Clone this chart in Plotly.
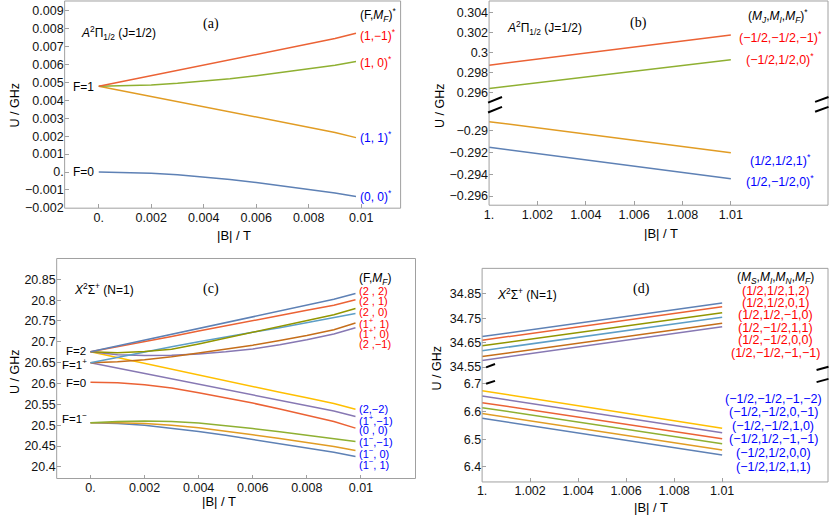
import plotly.graph_objects as go

W, H = 830, 523

# ---------------- data ----------------
# Panel (a): A2Pi1/2 (J=1/2), low field
B_a = [0, 0.001, 0.002, 0.003, 0.004, 0.005, 0.006, 0.007, 0.008, 0.009, 0.0098]
a_red = [0.00479, 0.00509, 0.00538, 0.00568, 0.00597, 0.00627, 0.00657, 0.00686, 0.00716, 0.00745, 0.00775]
a_green = [0.00479, 0.00481, 0.00486, 0.00495, 0.00507, 0.00521, 0.00538, 0.00556, 0.00576, 0.00596, 0.00617]
a_orange = [0.00479, 0.00450, 0.00422, 0.00393, 0.00364, 0.00336, 0.00307, 0.00278, 0.00249, 0.00221, 0.00192]
a_blue = [0, -0.00002, -0.00007, -0.00016, -0.00028, -0.00042, -0.00059, -0.00077, -0.00097, -0.00117, -0.00137]

# Panel (b): A2Pi1/2 (J=1/2), high field
B_b = [1.0, 1.01]
b_red = [0.29873, 0.30173]
b_green = [0.29641, 0.29928]
b_orange = [-0.28915, -0.29202]
b_blue = [-0.29150, -0.29440]

# Panel (c): X2Sigma+ (N=1), low field
B_c = [0, 0.001, 0.002, 0.003, 0.004, 0.005, 0.006, 0.007, 0.008, 0.009, 0.0098]
c_2_2 = [20.676, 20.690, 20.704, 20.718, 20.732, 20.746, 20.760, 20.774, 20.788, 20.802, 20.816]
c_2_1 = [20.676, 20.688, 20.701, 20.713, 20.726, 20.738, 20.751, 20.763, 20.776, 20.788, 20.801]
c_2_0 = [20.676, 20.674, 20.677, 20.682, 20.695, 20.709, 20.723, 20.737, 20.751, 20.765, 20.780]
c_1p_1 = [20.650, 20.663, 20.676, 20.688, 20.700, 20.712, 20.723, 20.734, 20.746, 20.757, 20.768]
c_1p_0 = [20.650, 20.652, 20.657, 20.664, 20.673, 20.682, 20.692, 20.703, 20.715, 20.729, 20.745]
c_2_m1 = [20.676, 20.669, 20.667, 20.668, 20.671, 20.676, 20.683, 20.693, 20.705, 20.719, 20.734]
c_2_m2 = [20.676, 20.662, 20.648, 20.634, 20.621, 20.607, 20.593, 20.579, 20.566, 20.552, 20.538]
c_1p_m1 = [20.650, 20.637, 20.624, 20.611, 20.598, 20.585, 20.573, 20.560, 20.547, 20.534, 20.521]
c_0_0 = [20.603, 20.602, 20.597, 20.589, 20.578, 20.566, 20.553, 20.539, 20.524, 20.509, 20.493]
c_1m_m1 = [20.506, 20.509, 20.510, 20.509, 20.505, 20.499, 20.492, 20.484, 20.476, 20.469, 20.461]
c_1m_0 = [20.506, 20.506, 20.504, 20.500, 20.494, 20.486, 20.477, 20.468, 20.459, 20.449, 20.439]
c_1m_1 = [20.506, 20.504, 20.500, 20.493, 20.485, 20.476, 20.466, 20.456, 20.446, 20.435, 20.425]

# Panel (d): X2Sigma+ (N=1), high field
B_d = [1.0, 1.01]
d_up_start = [34.675, 34.660, 34.637, 34.617, 34.593, 34.577]
d_up_end = [34.813, 34.797, 34.773, 34.754, 34.730, 34.715]
d_lo_start = [6.675, 6.656, 6.632, 6.614, 6.593, 6.576]
d_lo_end = [6.540, 6.523, 6.502, 6.484, 6.461, 6.443]

# labels
a_labels = ["(1,\u22121)<sup>*</sup>", "(1, 0)<sup>*</sup>", "(1, 1)<sup>*</sup>", "(0, 0)<sup>*</sup>"]
b_labels = ["(\u22121/2,\u22121/2,\u22121)<sup>*</sup>", "(\u22121/2,1/2,0)<sup>*</sup>",
            "(1/2,1/2,1)<sup>*</sup>", "(1/2,\u22121/2,0)<sup>*</sup>"]
c_labels_red = ["(2 , 2)", "(2 , 1)", "(2 , 0)", "(1<sup>+</sup>, 1)", "(1<sup>+</sup>, 0)", "(2 ,\u22121)"]
c_labels_blue = ["(2,\u22122)", "(1<sup>+</sup>,\u22121)", "(0 , 0)", "(1<sup>\u2212</sup>,\u22121)",
                 "(1<sup>\u2212</sup>, 0)", "(1<sup>\u2212</sup>, 1)"]
d_labels_red = ["(1/2,1/2,1,2)", "(1/2,1/2,0,1)", "(1/2,1/2,\u22121,0)", "(1/2,\u22121/2,1,1)",
                "(1/2,\u22121/2,0,0)", "(1/2,\u22121/2,\u22121,\u22121)"]
d_labels_blue = ["(\u22121/2,\u22121/2,\u22121,\u22122)", "(\u22121/2,\u22121/2,0,\u22121)",
                 "(\u22121/2,\u22121/2,1,0)", "(\u22121/2,1/2,\u22121,\u22121)",
                 "(\u22121/2,1/2,0,0)", "(\u22121/2,1/2,1,1)"]

ticks_low_x = [0, 0.002, 0.004, 0.006, 0.008, 0.01]
ticks_low_x_text = ["0.", "0.002", "0.004", "0.006", "0.008", "0.01"]
ticks_high_x = [1.0, 1.002, 1.004, 1.006, 1.008, 1.01]
ticks_high_x_text = ["1.", "1.002", "1.004", "1.006", "1.008", "1.01"]
a_yt = [-0.002, -0.001, 0, 0.001, 0.002, 0.003, 0.004, 0.005, 0.006, 0.007, 0.008, 0.009]
a_yt_text = ["\u22120.002", "\u22120.001", "0.", "0.001", "0.002", "0.003", "0.004", "0.005",
             "0.006", "0.007", "0.008", "0.009"]
b_up_yt = [0.296, 0.298, 0.3, 0.302, 0.304]
b_up_yt_text = ["0.296", "0.298", "0.3", "0.302", "0.304"]
b_lo_yt = [-0.296, -0.294, -0.292, -0.29]
b_lo_yt_text = ["\u22120.296", "\u22120.294", "\u22120.292", "\u22120.29"]
c_yt = [20.4, 20.45, 20.5, 20.55, 20.6, 20.65, 20.7, 20.75, 20.8, 20.85]
c_yt_text = ["20.4", "20.45", "20.5", "20.55", "20.6", "20.65", "20.7", "20.75", "20.8", "20.85"]
d_up_yt = [34.55, 34.65, 34.75, 34.85]
d_lo_yt = [6.4, 6.5, 6.6, 6.7]

# Mathematica default palette
BLUE, ORANGE, GREEN, RED = "#5E81B5", "#E19C24", "#8FB032", "#EB6235"
PURPLE, BROWN, LBLUE, YELLOW, OLIVE = "#8778B3", "#C56E1A", "#5D9EC7", "#FFBF00", "#929600"

SANS = "Liberation Sans, Arial, sans-serif"
SERIF = "Liberation Serif, Times New Roman, serif"
FRAME = "#a0a0a0"
LW = 1.5


def px(x):
    return x / W


def py(y):
    return 1 - y / H


fig = go.Figure()


def add(x, y, color, xa, ya):
    fig.add_trace(go.Scatter(x=x, y=y, mode="lines", line=dict(color=color, width=LW),
                             xaxis=xa, yaxis=ya, showlegend=False, hoverinfo="skip"))


# (a)
for ys, col in [(a_blue, BLUE), (a_orange, ORANGE), (a_green, GREEN), (a_red, RED)]:
    add(B_a, ys, col, "x", "y")
# (b)
add(B_b, b_red, RED, "x2", "y2")
add(B_b, b_green, GREEN, "x2", "y2")
add(B_b, b_orange, ORANGE, "x2", "y3")
add(B_b, b_blue, BLUE, "x2", "y3")
# (c)
for ys, col in [(c_1m_1, BLUE), (c_1m_0, ORANGE), (c_1m_m1, GREEN), (c_0_0, RED),
                (c_1p_m1, PURPLE), (c_2_m2, YELLOW), (c_2_m1, PURPLE), (c_1p_0, BROWN),
                (c_1p_1, LBLUE), (c_2_0, OLIVE), (c_2_1, RED), (c_2_2, BLUE)]:
    add(B_c, ys, col, "x3", "y4")
# (d)
up_cols = [BLUE, RED, OLIVE, LBLUE, BROWN, PURPLE]
lo_cols = [YELLOW, PURPLE, RED, GREEN, ORANGE, BLUE]
for s, e, col in zip(d_up_start, d_up_end, up_cols):
    add(B_d, [s, e], col, "x4", "y5")
for s, e, col in zip(d_lo_start, d_lo_end, lo_cols):
    add(B_d, [s, e], col, "x4", "y6")

tickfont = dict(family=SANS, size=12.5, color="#111")
common = dict(showgrid=False, zeroline=False, showline=False, ticks="inside", ticklen=4,
              tickcolor=FRAME, tickwidth=1, tickfont=tickfont, tickmode="array")

lay = {}
lay["xaxis"] = dict(common, domain=[px(60), px(398)], anchor="y", range=[-0.0013, 0.0115],
                    tickvals=ticks_low_x, ticktext=ticks_low_x_text)
lay["yaxis"] = dict(common, domain=[py(211), py(1)], anchor="x", range=[-0.00202, 0.00955],
                    tickvals=a_yt, ticktext=a_yt_text)
lay["xaxis2"] = dict(common, domain=[px(487), px(828)], anchor="y3", range=[1.0, 1.01402],
                     tickvals=ticks_high_x, ticktext=ticks_high_x_text)
lay["yaxis2"] = dict(common, domain=[py(105), py(1)], anchor="x2", range=[0.29492, 0.30511],
                     tickvals=b_up_yt, ticktext=b_up_yt_text)
lay["yaxis3"] = dict(common, domain=[py(208), py(105)], anchor="x2", range=[-0.29684, -0.28749],
                     tickvals=b_lo_yt, ticktext=b_lo_yt_text)
lay["xaxis3"] = dict(common, domain=[px(52), px(413)], anchor="y4", range=[-0.00125, 0.01202],
                     tickvals=ticks_low_x, ticktext=ticks_low_x_text)
lay["yaxis4"] = dict(common, domain=[py(485), py(262)], anchor="x3", range=[20.372, 20.90],
                     tickvals=c_yt, ticktext=c_yt_text)
lay["xaxis4"] = dict(common, domain=[px(480), px(828)], anchor="y6", range=[1.0, 1.01441],
                     tickvals=ticks_high_x, ticktext=ticks_high_x_text)
lay["yaxis5"] = dict(common, domain=[py(380), py(272)], anchor="x4", range=[34.5177, 34.955],
                     tickvals=d_up_yt, ticktext=[str(v) for v in d_up_yt])
lay["yaxis6"] = dict(common, domain=[py(488.5), py(380)], anchor="x4", range=[6.3459, 6.732],
                     tickvals=d_lo_yt, ticktext=[str(v) for v in d_lo_yt])

shapes = []
for (x0, x1, y0, y1) in [(60, 398, 1, 211), (487, 828, 1, 208), (52, 413, 262, 485), (480, 828, 272, 488.5)]:
    shapes.append(dict(type="rect", xref="paper", yref="paper", x0=px(x0), x1=px(x1), y0=py(y1), y1=py(y0),
                       line=dict(color=FRAME, width=1), fillcolor="rgba(0,0,0,0)", layer="above"))
# break marks
for (x0, y0, x1, y1) in [(486, 104, 500, 98.3), (486, 114, 500, 108.3),
                         (815, 103.3, 828.5, 98.3), (815, 113.3, 828.5, 108.3),
                         (484, 372.3, 493, 369), (484, 389, 493, 386),
                         (816.5, 375, 828.5, 371.7), (816.5, 387.3, 828.5, 384)]:
    shapes.append(dict(type="line", xref="paper", yref="paper", x0=px(x0), y0=py(y0), x1=px(x1), y1=py(y1),
                       line=dict(color="black", width=2), layer="above"))

ann = []


def T(text, x, y, xa="center", size=12, color="black", family=SANS, angle=0):
    ann.append(dict(text=text, x=px(x), y=py(y), xref="paper", yref="paper", xanchor=xa, yanchor="middle",
                    showarrow=False, textangle=angle, font=dict(family=family, size=size, color=color)))


# (a) texts
T("<i>A</i><sup>2</sup>\u03a0<sub>1/2</sub> (J=1/2)", 74, 33, "left")
T("(a)", 207, 24, size=14, family=SERIF)
T("(F,<i>M<sub>F</sub></i>)<sup>*</sup>", 375, 15)
for lab, yy, col in zip(a_labels, [35, 63, 139, 199], ["red", "red", "blue", "blue"]):
    T(lab, 355, yy, "left", color=col)
T("F=1", 92, 88, "right")
T("F=0", 92, 174, "right")
T("U / GHz", 10, 107, size=12.5, angle=-90)
T("|B| / T", 230, 239, size=13)

# (b) texts
T("<i>A</i><sup>2</sup>\u03a0<sub>1/2</sub> (J=1/2)", 503, 28, "left")
T("(b)", 637, 23, size=14, family=SERIF)
T("(<i>M<sub>J</sub></i>,<i>M<sub>I</sub></i>,<i>M<sub>F</sub></i>)<sup>*</sup>", 778, 16)
for lab, yy, col in zip(b_labels, [37, 60, 162, 183], ["red", "red", "blue", "blue"]):
    T(lab, 780, yy, color=col, size=12.5)
T("U / GHz", 437, 107, size=12.5, angle=-90)
T("|B| / T", 660, 237, size=13)

# (c) texts
T("<i>X</i><sup>2</sup>\u03a3<sup>+</sup> (N=1)", 67, 293, "left")
T("(c)", 207, 293, size=14, family=SERIF)
T("(F,<i>M<sub>F</sub></i>)", 372, 283)
for lab, yy in zip(c_labels_red, [295, 305.5, 316, 327, 338, 349]):
    T(lab, 354, yy, "left", color="red", size=11)
for lab, yy in zip(c_labels_blue, [415, 425.5, 436, 447, 459, 470]):
    T(lab, 354, yy, "left", color="blue", size=11)
T("F=2", 83, 356, "right", size=11.5)
T("F=1<sup>+</sup>", 85, 369, "right", size=11.5)
T("F=0", 83, 388, "right", size=11.5)
T("F=1<sup>\u2212</sup>", 85, 424, "right", size=11.5)
T("U / GHz", 10, 377, size=12.5, angle=-90)
T("|B| / T", 215, 508, size=13)

# (d) texts
T("<i>X</i><sup>2</sup>\u03a3<sup>+</sup> (N=1)", 493, 298, "left")
T("(d)", 640, 293, size=14, family=SERIF)
T("(<i>M<sub>S</sub></i>,<i>M<sub>I</sub></i>,<i>M<sub>N</sub></i>,<i>M<sub>F</sub></i>)", 775, 282)
for lab, yy in zip(d_labels_red, [295, 307, 319, 332, 345, 358]):
    T(lab, 775, yy, color="red", size=12.5)
for lab, yy in zip(d_labels_blue, [404, 418, 432, 445, 459, 473]):
    T(lab, 773, yy, color="blue", size=12.5)
T("U / GHz", 435, 373, size=12.5, angle=-90)
T("|B| / T", 650, 514, size=13)

fig.update_layout(width=W, height=H, margin=dict(l=0, r=0, t=0, b=0),
                  paper_bgcolor="white", plot_bgcolor="white", showlegend=False,
                  shapes=shapes, annotations=ann, **lay)

fig.write_html("out.html", config={"displayModeBar": False},
               post_script="document.body.style.margin='0';document.body.style.overflow='hidden';")
